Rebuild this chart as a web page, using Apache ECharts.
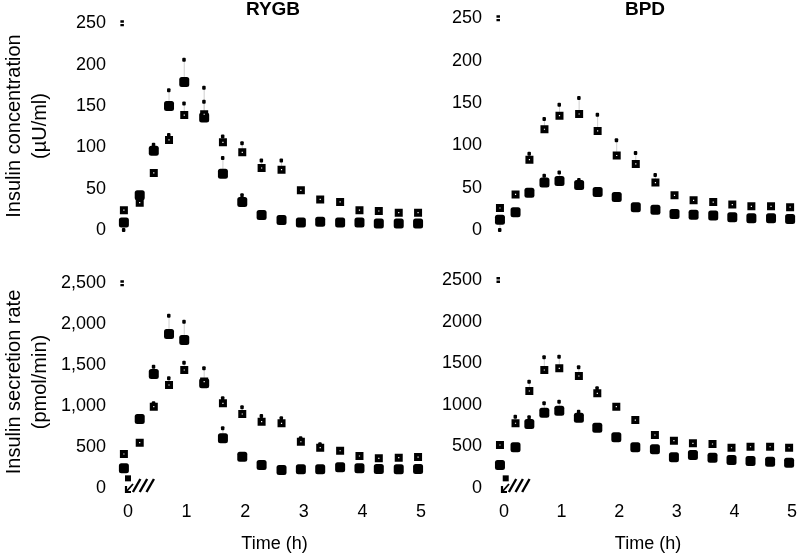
<!DOCTYPE html>
<html><head><meta charset="utf-8">
<script src="https://cdn.jsdelivr.net/npm/echarts@6/dist/echarts.min.js"></script>
<style>html,body{margin:0;padding:0;background:#fff}#c{width:800px;height:557px}</style>
</head><body><div id="c"></div>
<script>
// sampling times (h)
const times = [-0.07, 0.2, 0.44, 0.7, 0.96, 1.3, 1.62, 1.95, 2.28, 2.62, 2.95, 3.28, 3.62, 3.95, 4.28, 4.62, 4.95];
const xTicks = [0, 1, 2, 3, 4, 5];
const insulinTicks = [0, 50, 100, 150, 200, 250];
const isrTicks = [0, 500, 1000, 1500, 2000, 2500];
const panelTitles = ['RYGB', 'BPD'];

// RYGB insulin concentration (µU/ml)
const rygbInsA    = [24, 33, 69, 109, 139, 140, 106, 94, 75, 73, 48, 37, 34, 24, 23, 21, 21];
const rygbInsAErr = [null, null, null, 115, 153, 172, 113, 105, 84, 84, null, null, null, null, null, null, null];
const rygbInsB    = [9, 42, 96, 150, 179, 136, 68, 34, 18, 12, 9, 10, 9, 9, 8, 8, 8];
const rygbInsBErr = [0, null, 103, 169, 206, 155, 87, 42, null, null, null, null, null, null, null, null, null];

// BPD insulin concentration (µU/ml)
const bpdInsA    = [26, 42, 83, 119, 135, 137, 117, 88, 78, 56, 41, 35, 33, 30, 28, 28, 27];
const bpdInsAErr = [null, null, 90, 131, 148, 156, 136, 106, 91, 65, null, null, null, null, null, null, null];
const bpdInsB    = [12, 21, 44, 56, 58, 53, 45, 39, 27, 24, 19, 18, 17, 15, 14, 14, 13];
const bpdInsBErr = [0, null, null, 64, 68, 59, null, null, null, null, null, null, null, null, null, null, null];

// RYGB insulin secretion rate (pmol/min)
const rygbIsrA    = [415, 553, 993, 1258, 1441, 1300, 1034, 904, 810, 790, 565, 492, 455, 391, 363, 370, 378];
const rygbIsrAErr = [null, null, 1034, 1339, 1530, 1462, 1095, 985, 879, 851, 607, 533, null, null, null, null, null];
const rygbIsrB    = [240, 842, 1392, 1880, 1807, 1280, 607, 382, 281, 220, 228, 228, 253, 240, 232, 228, 232];
const rygbIsrBErr = [null, null, 1481, 2104, 2031, null, 729, null, null, null, null, null, null, null, null, null, null];

// BPD insulin secretion rate (pmol/min)
const bpdIsrA    = [517, 778, 1166, 1418, 1439, 1346, 1138, 977, 817, 637, 569, 537, 529, 484, 496, 496, 484];
const bpdIsrAErr = [null, 857, 1278, 1571, 1578, 1451, 1198, null, null, null, null, null, null, null, null, null, null];
const bpdIsrB    = [276, 489, 769, 905, 929, 845, 725, 609, 489, 465, 369, 397, 364, 337, 325, 316, 304];
const bpdIsrBErr = [null, null, 850, 1018, 1037, 917, null, null, null, null, null, null, null, null, null, null, null];

// small marks near the y axis top and near time 0
const insTopMark = [[-0.1, 250]];
const isrTopMark = [[-0.1, 2500]];
const rygbIsrStartMark = [[0.0, 118]];
const bpdIsrStartMark = [[0.03, 116]];
// meal period drawn as hatched bar (h)
const meal = [0.05, 0.42];

const FONT = 'Liberation Sans';
const panels = [
  {A: rygbInsA, AE: rygbInsAErr, B: rygbInsB, BE: rygbInsBErr, top: insTopMark, start: null, meal: false},
  {A: bpdInsA, AE: bpdInsAErr, B: bpdInsB, BE: bpdInsBErr, top: insTopMark, start: null, meal: false},
  {A: rygbIsrA, AE: rygbIsrAErr, B: rygbIsrB, BE: rygbIsrBErr, top: isrTopMark, start: rygbIsrStartMark, meal: true},
  {A: bpdIsrA, AE: bpdIsrAErr, B: bpdIsrB, BE: bpdIsrBErr, top: isrTopMark, start: bpdIsrStartMark, meal: true}
];
const grids = [
  {left: 128, top: 23.3, width: 293, height: 206.7},
  {left: 504, top: 18.3, width: 289, height: 211.7},
  {left: 128, top: 283.3, width: 293, height: 204.7},
  {left: 504, top: 280, width: 289, height: 208}
];

function errData(vals, errs) {
  const out = [];
  times.forEach((t, i) => { if (errs[i] !== null) out.push([t, vals[i], errs[i]]); });
  return out;
}
function errItem(params, api) {
  const p1 = api.coord([api.value(0), api.value(1)]);
  const p2 = api.coord([api.value(0), api.value(2)]);
  return {type: 'group', children: [
    {type: 'line', shape: {x1: p1[0], y1: p1[1], x2: p2[0], y2: p2[1]}, style: {stroke: '#cfcfcf', lineWidth: 1}},
    {type: 'rect', shape: {x: p2[0] - 2, y: p2[1] - 2, width: 3.5, height: 4, r: 1}, style: {fill: '#000'}}
  ]};
}
function mealItem(params, api) {
  const x0 = api.coord([meal[0], 0]);
  const x1 = api.coord([meal[1], 0]);
  const xz = api.coord([0, 0]);
  const yb = x0[1] + 4;
  const w = (x1[0] - x0[0]);
  const step = w / 3.2;
  const children = [];
  for (let i = 0; i < 3; i++) {
    const xs = x0[0] + 2 + i * step;
    children.push({type: 'line', shape: {x1: xs, y1: yb, x2: xs + step * 1.1, y2: yb - 13}, style: {stroke: '#000', lineWidth: 2.4}});
  }
  children.push({type: 'line', shape: {x1: xz[0] - 2, y1: yb, x2: xz[0] + 5, y2: yb - 8}, style: {stroke: '#000', lineWidth: 1.8}});
  children.push({type: 'polyline', shape: {points: [[xz[0] - 2, yb - 6], [xz[0] - 2, yb], [xz[0] + 3, yb]]}, style: {stroke: '#000', lineWidth: 2.2, fill: null}});
  return {type: 'group', children};
}

const xAxis = [], yAxis = [], series = [];
grids.forEach((g, i) => {
  const bottom = i >= 2;
  xAxis.push({
    gridIndex: i, type: 'value', min: xTicks[0], max: xTicks[xTicks.length - 1], interval: 1,
    axisLine: {show: false}, axisTick: {show: false}, splitLine: {show: false},
    axisLabel: {show: bottom, fontSize: 18, color: '#000', margin: 15, fontFamily: FONT},
    name: bottom ? 'Time (h)' : '', nameLocation: 'middle', nameGap: 47,
    nameTextStyle: {fontSize: 18, color: '#000', fontFamily: FONT}
  });
  const ticks = bottom ? isrTicks : insulinTicks;
  yAxis.push({
    gridIndex: i, type: 'value', min: ticks[0], max: ticks[ticks.length - 1], interval: ticks[1] - ticks[0],
    axisLine: {show: false}, axisTick: {show: false}, splitLine: {show: false},
    axisLabel: {fontSize: 18, color: '#000', margin: 22, fontFamily: FONT,
      formatter: (v) => (i === 2 ? v.toLocaleString('en-US') : String(v))}
  });
  const p = panels[i];
  series.push({type: 'custom', xAxisIndex: i, yAxisIndex: i, renderItem: errItem, data: errData(p.A, p.AE), z: 1, silent: true, clip: false});
  series.push({type: 'custom', xAxisIndex: i, yAxisIndex: i, renderItem: errItem, data: errData(p.B, p.BE), z: 1, silent: true, clip: false});
  series.push({type: 'scatter', xAxisIndex: i, yAxisIndex: i, clip: false, z: 3,
    data: times.map((t, k) => [t, p.B[k]]), symbol: 'roundRect', symbolSize: 10,
    itemStyle: {color: '#000', opacity: 1}});
  series.push({type: 'scatter', xAxisIndex: i, yAxisIndex: i, clip: false, z: 4,
    data: times.map((t, k) => [t, p.A[k]]), symbol: 'rect', symbolSize: 4.6,
    itemStyle: {color: '#fff', borderColor: '#000', borderWidth: 3.4, opacity: 1}});
  series.push({type: 'scatter', xAxisIndex: i, yAxisIndex: i, clip: false, z: 4,
    data: p.top, symbol: 'path://M0,0H3V2H0Z M0,3H3V5H0Z', symbolSize: [3.5, 6], itemStyle: {color: '#000', opacity: 1}});
  if (p.start) {
    series.push({type: 'scatter', xAxisIndex: i, yAxisIndex: i, clip: false, z: 4,
      data: p.start, symbol: 'rect', symbolSize: 6, itemStyle: {color: '#000', opacity: 1}});
  }
  if (p.meal) {
    series.push({type: 'custom', xAxisIndex: i, yAxisIndex: i, renderItem: mealItem, data: [[0, 0]], z: 2, silent: true, clip: false});
  }
});

const txt = (text, x, y, opts) => Object.assign({type: 'text', x, y, silent: true,
  style: Object.assign({text, fill: '#000', fontSize: 20, fontFamily: FONT, align: 'center', verticalAlign: 'middle'}, opts || {})});
const graphic = [
  txt(panelTitles[0], 273, 10, {fontWeight: 'bold', fontSize: 19}),
  txt(panelTitles[1], 645, 10, {fontWeight: 'bold', fontSize: 19}),
  Object.assign(txt('Insulin concentration', 14, 126), {rotation: Math.PI / 2}),
  Object.assign(txt('(µU/ml)', 40, 126), {rotation: Math.PI / 2}),
  Object.assign(txt('Insulin secretion rate', 14, 382), {rotation: Math.PI / 2}),
  Object.assign(txt('(pmol/min)', 40, 382), {rotation: Math.PI / 2})
];

const chart = echarts.init(document.getElementById('c'), null, {renderer: 'canvas'});
chart.setOption({
  animation: false,
  backgroundColor: '#fff',
  textStyle: {fontFamily: FONT},
  grid: grids,
  xAxis, yAxis, series, graphic
});
</script></body></html>
